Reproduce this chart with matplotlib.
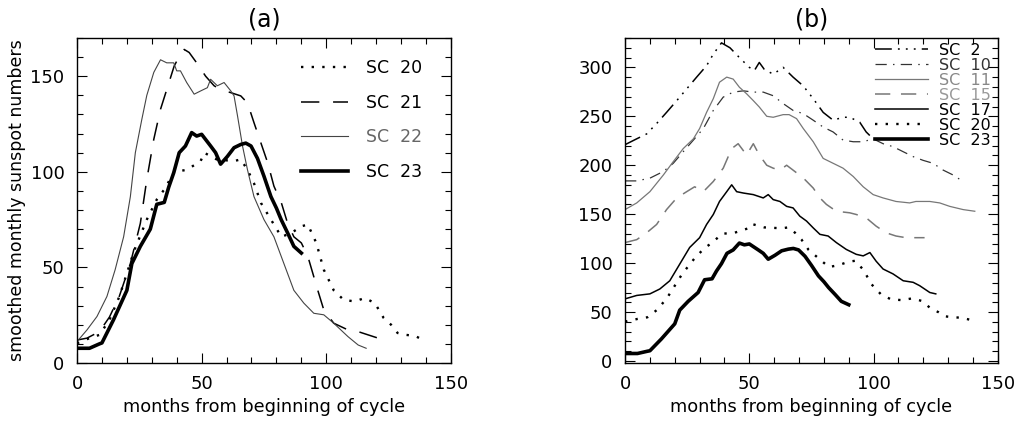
import numpy as np
import matplotlib
matplotlib.use("Agg")
import matplotlib.pyplot as plt
from matplotlib.ticker import MultipleLocator

# ---- data (months from cycle start, smoothed SSN) ----
sc20_m = [0, 5, 9, 13, 17, 23, 28, 32, 35, 39, 44, 49.6, 51, 56, 63, 65.7, 68.4, 71,
          73.8, 77.8, 82, 86, 90, 92.6, 96, 99, 103, 107, 111.4, 115.5, 119.5, 123,
          126, 128.6, 132, 135.5, 139]
sc20_v = [10.3, 13, 14.7, 22.5, 34.8, 59, 75, 85.5, 90.7, 100, 101, 105.6, 110, 106.5,
          105.6, 106.5, 101, 94, 83.7, 75, 66, 68, 71.5, 72.4, 62.8, 48.8, 38, 33, 32.2,
          34, 31.3, 23.6, 20, 15.7, 14.7, 14.2, 12]

sc21_m = [0, 4, 9, 13, 17, 21.4, 25.4, 28, 30.8, 33.5, 36, 39, 41.5, 43, 45, 48, 51.6,
          55, 57.7, 61.7, 65.7, 68.4, 71, 73.8, 76.5, 79, 82, 84.5, 87, 90, 92.6, 96.6,
          99, 103, 108.7, 112.8, 116.8, 120.8, 123.5]
sc21_v = [12, 13, 16.4, 24, 35, 52, 73, 96, 117, 132.7, 143, 155.4, 161.5, 164, 162.4,
          157, 150, 145, 143, 141.4, 139.7, 136, 125.7, 115, 104.7, 92.5, 83.7, 73, 66,
          62.8, 55.8, 38, 27.8, 20.8, 17.3, 16.4, 14.7, 13, 11.2]

sc22_m = [0, 4, 8, 12, 15.3, 18.7, 21.4, 23.4, 26, 28, 30.8, 33.5, 36, 38.8, 40, 41.5,
          44, 47, 49.6, 52.3, 53.6, 56.3, 59, 61.7, 63, 64.4, 66.4, 68.4, 71, 75, 79,
          83, 87, 91, 95, 99, 103, 108.7, 112.8, 116]
sc22_v = [11.2, 17.3, 24.3, 34.8, 48.8, 66, 87, 110, 127.4, 140, 152, 158.6, 157, 157,
          152.8, 152.8, 146.7, 140.6, 142.3, 144, 148.4, 145, 146.7, 142.3, 139.7, 129.2,
          113.5, 101, 87, 75, 66, 52, 38, 31.3, 26, 25.2, 20.8, 13.8, 9.4, 7.7]

sc23_m = [0, 5, 9, 10, 14.6, 20, 22, 25.4, 29.4, 32, 35, 36.8, 38.8, 41, 43.5, 46, 48,
          50, 53.6, 55.6, 57.6, 60.3, 63, 65.7, 67.7, 69.8, 72.4, 75, 77.8, 80, 81.9,
          84.5, 87, 90]
sc23_v = [7.7, 7.7, 10, 10.5, 22.5, 38, 52, 61, 70, 83, 84, 92, 99.5, 110, 113.5, 120.5,
          118.7, 119.6, 113.5, 110, 104, 108, 112.6, 114.3, 115, 113.5, 107, 97.7, 87,
          81, 75, 68, 61, 57.5]

sc2_m = [0, 4.7, 8.7, 12.7, 16.7, 20.8, 24.8, 28.8, 32.8, 35.5, 38.8, 42.2, 46, 50, 52,
         54, 56, 59.6, 63.6, 67.6, 71.7, 75.7, 79.7, 83.7, 87.7, 90.4, 94.4, 97, 99.8]
sc2_v = [221, 227, 232, 242.6, 254, 266, 278, 290, 301.7, 313.5, 325, 320, 310, 300,
         296.6, 305, 298, 293, 300, 290, 281, 268, 254, 246, 249, 249, 244, 234, 227]

sc10_m = [0, 4.7, 10, 15.4, 19.4, 23.4, 27.5, 31.5, 35.5, 39.5, 43.5, 47.6, 51.6, 55.6,
          59.6, 63.6, 67.6, 71.7, 75.7, 79.7, 83.7, 87.7, 91.8, 95.8, 99.8, 103.8,
          107.8, 111.9, 115.9, 119.9, 123.9, 128, 132, 135]
sc10_v = [184, 184, 186.8, 193.6, 202, 213.8, 225.7, 237.5, 256, 269.6, 274.7, 276,
          274.7, 274.7, 271, 263, 256, 252.7, 246, 239, 234, 225.7, 224, 224, 227, 222,
          219, 213.8, 208.8, 205, 202, 195, 190, 185]

sc11_m = [0, 4.7, 10, 15.4, 19.4, 23.4, 27.5, 30, 32.8, 35.5, 38, 40.9, 43.5, 46, 48.9,
          51.6, 54, 57, 59.6, 63.6, 66, 69, 71.7, 75.7, 79.7, 83.7, 87.7, 91.8, 95.8,
          99.8, 103.8, 109, 114.5, 117, 122.6, 126.6, 130.6, 136, 140.7]
sc11_v = [154.7, 161.5, 173, 190, 203.7, 217, 227, 237.5, 254, 268, 284.8, 290, 288,
          279.7, 273, 266, 259.5, 250, 249, 251.7, 251.7, 247.6, 237.5, 224, 207, 202,
          197, 188.5, 178, 170, 166.6, 163, 161.5, 163, 163, 161.5, 158, 154.7, 153]

sc15_m = [0, 4.7, 8.7, 12.7, 16.7, 20.8, 24.8, 28, 31.5, 35.5, 39.5, 42.9, 45.5, 48.9,
          51.6, 54, 57, 59.6, 62.3, 65, 67.6, 71.7, 75.7, 78.4, 81, 85, 90.4, 93, 97,
          101, 105, 109, 113, 117, 120.5]
sc15_v = [121, 124, 131, 139.5, 154.7, 166.6, 173, 178, 173, 183.4, 197, 217, 222,
          210.5, 222, 210.5, 200, 197, 195, 200, 195, 187, 176.7, 166.6, 160, 153,
          151.4, 149.7, 146.3, 137.8, 131, 127.7, 126, 126, 126]

sc17_m = [0, 4.7, 10, 14, 18, 22, 26, 30, 32.8, 35.5, 38, 40.9, 42.9, 44.9, 47.6, 51.6,
          55.6, 57.6, 59.6, 62.3, 65, 67.6, 70.3, 73, 75.7, 78.4, 81.7, 85, 89, 93,
          95.8, 98.5, 101, 103.8, 107.8, 111.9, 115.9, 118.5, 122.6, 125]
sc17_v = [63.5, 67, 68.6, 73.6, 82, 99, 116, 126, 139.5, 149.7, 163, 173, 180, 173,
          171.6, 170, 166.6, 170, 164.9, 163, 158, 156.4, 148, 143, 136, 129.4, 127.7,
          121, 114, 109, 107.4, 110.8, 102, 94, 89, 82, 80.4, 77, 70, 68.6]

sc20_shift = 30  # SC 20 is moved up in panel (b)

plt.rcParams['font.family'] = ['DejaVu Sans']

fig = plt.figure(figsize=(10.16, 4.21), dpi=100)
ax1 = fig.add_axes([0.0758, 0.1378, 0.368, 0.772])
ax2 = fig.add_axes([0.6152, 0.1378, 0.367, 0.772])

dots = (0, (1, 3.5))


def style_axes(ax):
    ax.set_xlim(0, 150)
    ax.xaxis.set_major_locator(MultipleLocator(50))
    ax.xaxis.set_minor_locator(MultipleLocator(10))
    ax.yaxis.set_major_locator(MultipleLocator(50))
    ax.yaxis.set_minor_locator(MultipleLocator(10))
    ax.tick_params(which='both', direction='in', top=True, right=True, width=0.8)
    ax.tick_params(which='major', length=7, labelsize=13, pad=9)
    ax.tick_params(which='minor', length=4)
    for s in ax.spines.values():
        s.set_linewidth(1.0)
    ax.set_xlabel("months from beginning of cycle", fontsize=12.8, labelpad=3)


# panel (a)
ax1.plot(sc20_m, sc20_v, color='black', lw=1.7, ls=dots, label="SC  20")
ax1.plot(sc21_m, sc21_v, color='black', lw=1.1, ls=(0, (12, 9)), label="SC  21")
ax1.plot(sc22_m, sc22_v, color='#444444', lw=0.8, label="SC  22")
ax1.plot(sc23_m, sc23_v, color='black', lw=2.6, label="SC  23")
style_axes(ax1)
ax1.set_ylim(0, 170)
ax1.set_ylabel("smoothed monthly sunspot numbers", fontsize=12.5, labelpad=3)
ax1.set_title("(a)", fontsize=17, pad=8)
leg1 = ax1.legend(loc='upper left', bbox_to_anchor=(0.6, 0.935), frameon=False,
                  fontsize=12.5, handlelength=2.7, handletextpad=1.0,
                  labelspacing=0.95, borderpad=0, borderaxespad=0)
for t, c in zip(leg1.get_texts(), ['black', 'black', '#666666', 'black']):
    t.set_color(c)

# panel (b)
ax2.plot(sc2_m, sc2_v, color='black', lw=1.1, ls=(0, (11, 4, 1.2, 4, 1.2, 4, 1.2, 4)),
         label="SC  2")
ax2.plot(sc10_m, sc10_v, color='#333333', lw=0.9, ls=(0, (9, 5, 1.2, 5)), label="SC  10")
ax2.plot(sc11_m, sc11_v, color='#777777', lw=0.9, label="SC  11")
ax2.plot(sc15_m, sc15_v, color='#777777', lw=1.1, ls=(0, (10, 7)), label="SC  15")
ax2.plot(sc17_m, sc17_v, color='black', lw=1.1, label="SC  17")
ax2.plot(sc20_m, np.array(sc20_v) + sc20_shift, color='black', lw=1.7, ls=dots,
         label="SC  20")
ax2.plot(sc23_m, sc23_v, color='black', lw=2.6, label="SC  23")
style_axes(ax2)
ax2.set_ylim(-2, 330)
ax2.set_title("(b)", fontsize=17, pad=8)
leg2 = ax2.legend(loc='upper left', bbox_to_anchor=(0.67, 0.985), frameon=False,
                  fontsize=11.5, handlelength=3.3, handletextpad=0.7,
                  labelspacing=0.0, borderpad=0, borderaxespad=0)
for t, c in zip(leg2.get_texts(), ['black', '#333333', '#888888', '#999999',
                                    'black', 'black', 'black']):
    t.set_color(c)

fig.savefig("out.png", dpi=100)
